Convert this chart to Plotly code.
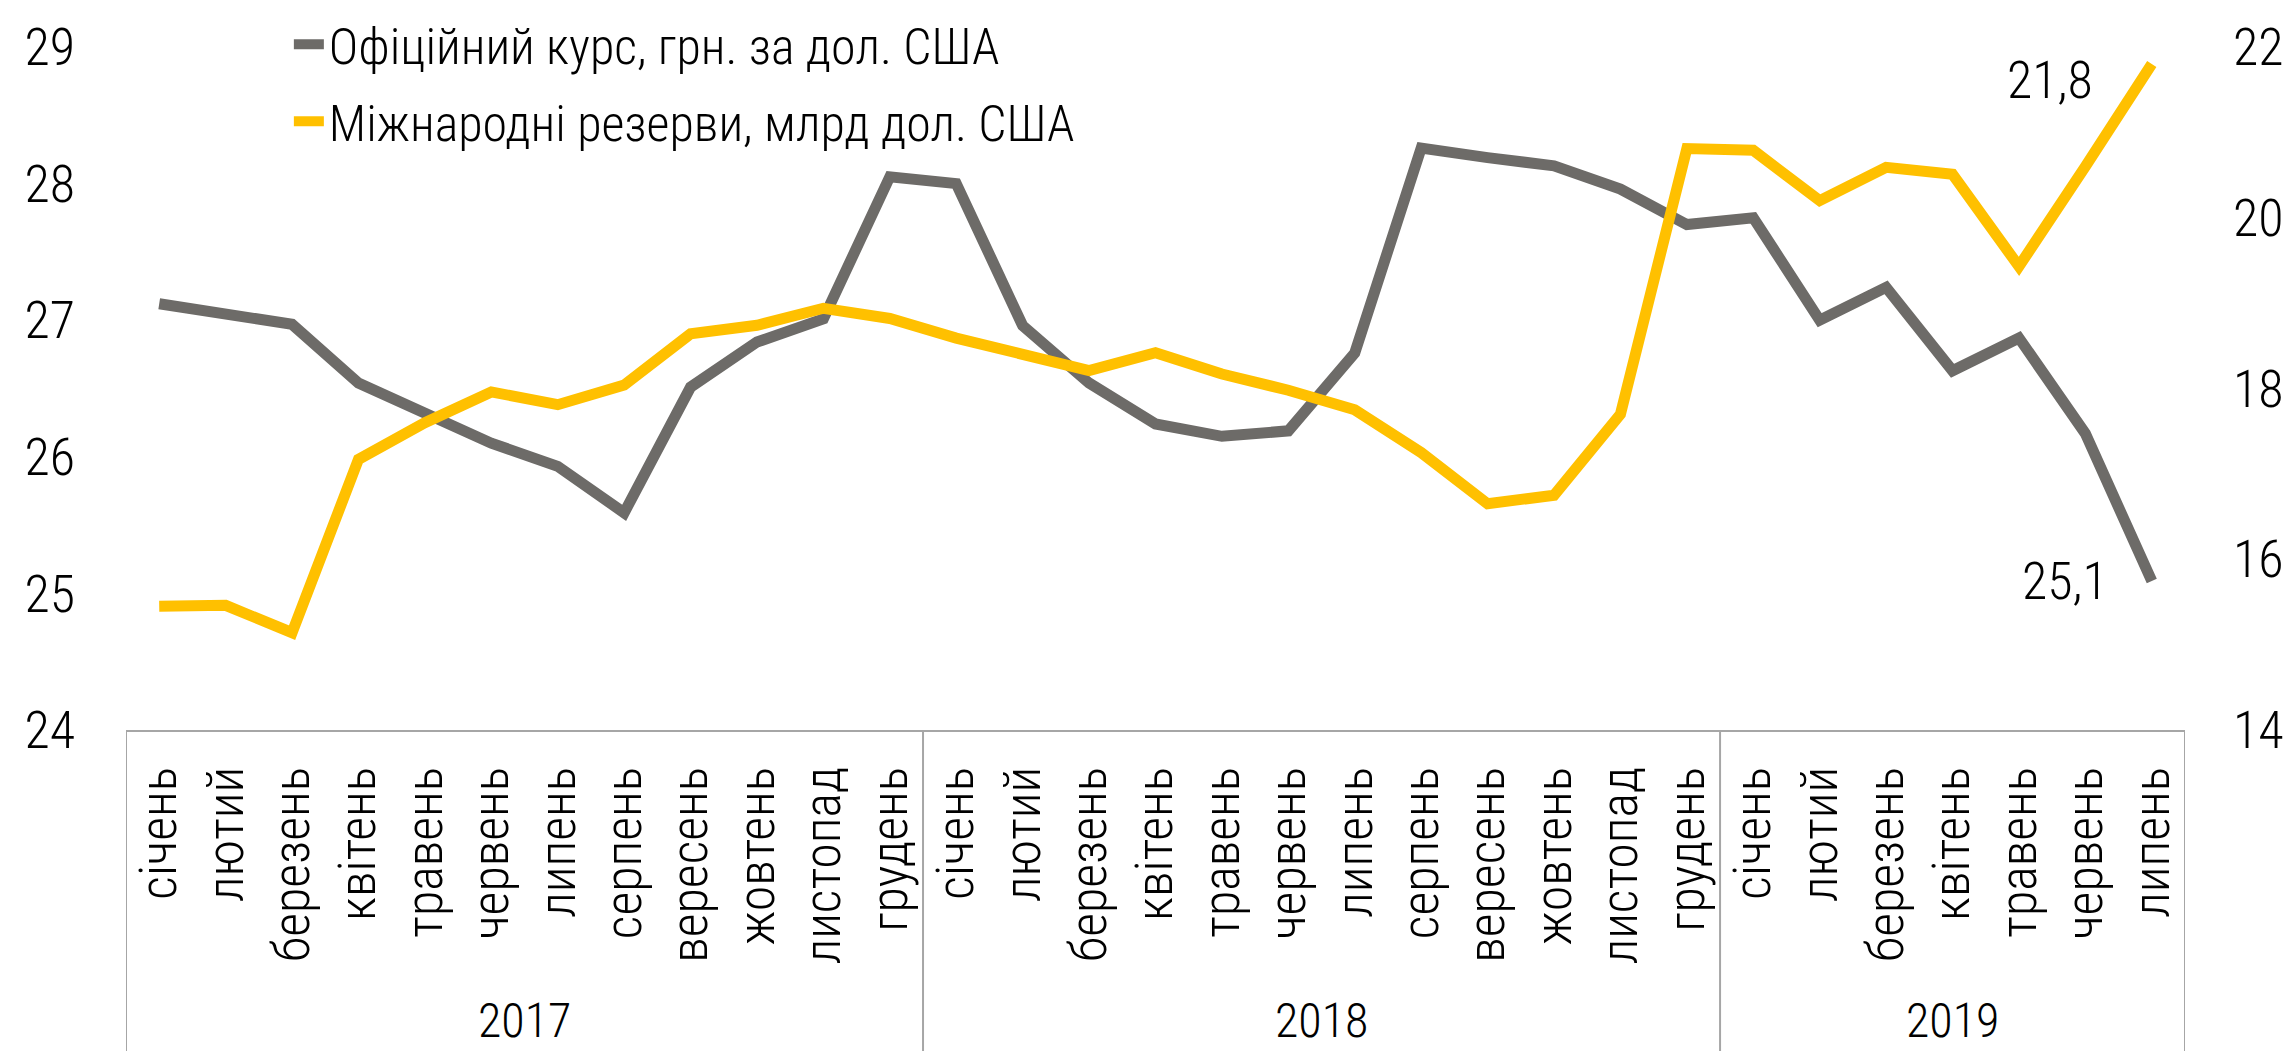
import plotly.graph_objects as go

months = ["січень", "лютий", "березень", "квітень", "травень", "червень", "липень",
          "серпень", "вересень", "жовтень", "листопад", "грудень",
          "січень", "лютий", "березень", "квітень", "травень", "червень", "липень",
          "серпень", "вересень", "жовтень", "листопад", "грудень",
          "січень", "лютий", "березень", "квітень", "травень", "червень", "липень"]
years = ["2017"] * 12 + ["2018"] * 12 + ["2019"] * 7

# Official exchange rate, UAH per USD (left axis)
rate = [27.12, 27.05, 26.97, 26.54, 26.33, 26.10, 25.93, 25.59, 26.51, 26.84, 27.01, 28.05,
        28.00, 26.96, 26.54, 26.24, 26.15, 26.19, 26.76, 28.26, 28.19, 28.13, 27.96, 27.70,
        27.75, 27.00, 27.24, 26.63, 26.87, 26.17, 25.09]
# International reserves, bn USD (right axis)
reserves = [15.45, 15.46, 15.14, 17.17, 17.60, 17.96, 17.81, 18.04, 18.64, 18.74, 18.94, 18.82,
            18.59, 18.41, 18.21, 18.42, 18.17, 17.98, 17.75, 17.25, 16.65, 16.75, 17.70, 20.81,
            20.79, 20.20, 20.59, 20.51, 19.43, 20.60, 21.80]

rate_name = "Офіційний курс, грн. за дол. США"
res_name = "Міжнародні резерви, млрд дол. США"
rate_label = "25,1"
res_label = "21,8"

left_ticks = [24, 25, 26, 27, 28, 29]
right_ticks = [14, 16, 18, 20, 22]

FONT = "Liberation Sans Narrow, Arial Narrow, Roboto Condensed, DejaVu Sans Condensed, Roboto, sans-serif"
GRAY = "#6D6B68"
YELLOW = "#FFC000"
AXIS = "#A6A6A6"

idx = list(range(len(months)))

fig = go.Figure()
fig.add_trace(go.Scatter(x=idx, y=rate, mode="lines", name=rate_name, legendgroup="a",
                         line=dict(color=GRAY, width=11)))
fig.add_trace(go.Scatter(x=idx, y=reserves, mode="lines", name=res_name, legendgroup="b",
                         yaxis="y2", line=dict(color=YELLOW, width=11)))

# group boundaries and centers derived from the years array
groups = []
for i, y in enumerate(years):
    if not groups or groups[-1][0] != y:
        groups.append([y, i, i])
    else:
        groups[-1][2] = i

shapes = []
bounds = [-0.5] + [g[2] + 0.5 for g in groups]
for b in bounds:
    shapes.append(dict(type="line", xref="x", yref="paper", x0=b, x1=b, y0=0, y1=-0.5,
                       line=dict(color=AXIS, width=2)))

annotations = []
for g in groups:
    annotations.append(dict(x=(g[1] + g[2]) / 2, y=-0.4695, xref="x", yref="paper",
                            text=g[0], showarrow=False, yanchor="bottom",
                            font=dict(size=48, color="black", family=FONT, weight=300)))
annotations.append(dict(x=idx[-1], y=reserves[-1], xref="x", yref="y2", text=res_label,
                        showarrow=False, xanchor="right", yanchor="middle", xshift=-57, yshift=-16,
                        font=dict(size=52, color="black", family=FONT, weight=300)))
annotations.append(dict(x=idx[-1], y=rate[-1], xref="x", yref="y", text=rate_label,
                        showarrow=False, xanchor="right", yanchor="middle", xshift=-42, yshift=0,
                        font=dict(size=52, color="black", family=FONT, weight=300)))

fig.update_layout(
    width=2289, height=1051, autosize=False,
    margin=dict(l=126, r=104, t=47, b=321, pad=0, autoexpand=False),
    paper_bgcolor="white", plot_bgcolor="white",
    font=dict(family=FONT, size=50, color="black", weight=300),
    showlegend=True,
    legend=dict(x=0.0791, y=1.061, xanchor="left", yanchor="top", bgcolor="rgba(0,0,0,0)",
                traceorder="grouped", tracegroupgap=9,
                font=dict(size=50, color="black", family=FONT, weight=300)),
    xaxis=dict(range=[-0.5, len(months) - 0.5], tickmode="array", tickvals=idx, ticktext=months,
               tickangle=-90, tickfont=dict(size=52), showgrid=False, zeroline=False,
               showline=True, linecolor=AXIS, linewidth=2, ticks="", ticklabelstandoff=14,
               automargin=False),
    yaxis=dict(range=[24, 29], tickmode="array", tickvals=left_ticks, showgrid=False,
               zeroline=False, showline=False, ticks="", tickfont=dict(size=52),
               ticklabelstandoff=50, automargin=False),
    yaxis2=dict(range=[14, 22], tickmode="array", tickvals=right_ticks, overlaying="y",
                side="right", showgrid=False, zeroline=False, showline=False, ticks="",
                tickfont=dict(size=52), ticklabelstandoff=47, automargin=False),
    shapes=shapes,
    annotations=annotations,
)

fig.write_html("out.html", config={"displayModeBar": False},
               post_script="document.body.style.margin='0';")
